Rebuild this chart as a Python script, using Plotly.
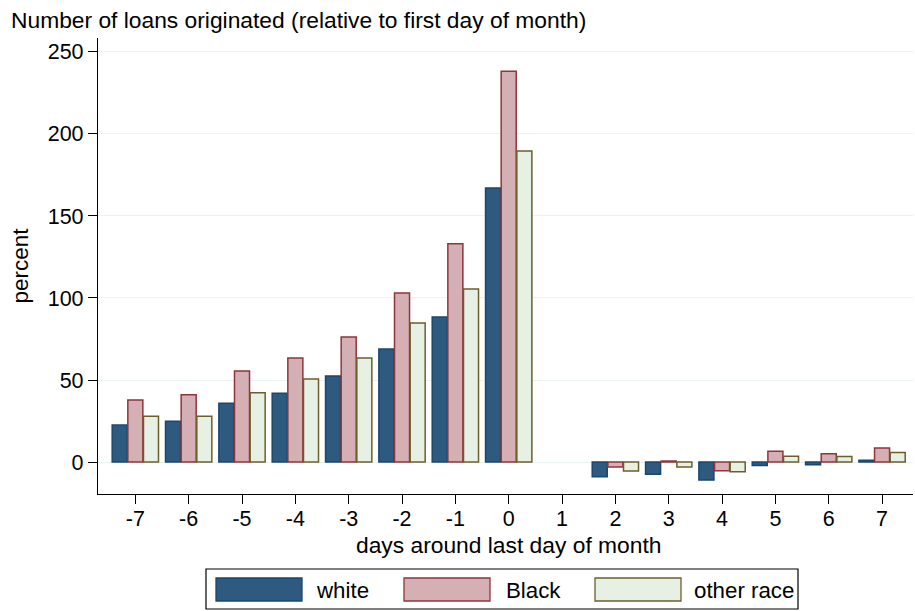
import plotly.graph_objects as go

days = [-7, -6, -5, -4, -3, -2, -1, 0, 2, 3, 4, 5, 6, 7]
white = [22.5, 24.8, 35.8, 41.9, 52.4, 68.9, 88.4, 167.0, -9.0, -7.5, -11.0, -2.2, -1.6, 1.0]
black = [37.8, 41.0, 55.5, 63.4, 76.2, 103.0, 133.0, 238.2, -3.0, 0.6, -5.3, 6.5, 5.1, 8.6]
other = [27.9, 27.9, 42.3, 50.6, 63.4, 84.8, 105.5, 189.6, -5.5, -3.0, -6.0, 3.5, 3.3, 5.8]
series_names = ["white", "Black", "other race"]
x_ticks = list(range(-7, 8))
y_ticks = [0, 50, 100, 150, 200, 250]

fills = ["#2f5a7f", "#d4afb3", "#e6f0e3"]
borders = ["#1a476f", "#90353b", "#6e5e2c"]

FONT = "Liberation Sans, Arial, Helvetica, sans-serif"

fig = go.Figure()
for name, vals, fc, bc in zip(series_names, [white, black, other], fills, borders):
    fig.add_trace(go.Bar(x=days, y=vals, name=name,
                         marker=dict(color=fc, line=dict(color=bc, width=1.5)),
                         showlegend=False))

T = 38
B = 611 - 494
H = 611 - T - B

fig.update_layout(
    width=915, height=611,
    margin=dict(l=98, r=2, t=T, b=B),
    paper_bgcolor="white", plot_bgcolor="white",
    barmode="group", bargap=0.12, bargroupgap=0.04,
    font=dict(family=FONT, size=22, color="black"),
    title=dict(text="Number of loans originated (relative to first day of month)",
               x=11 / 915, xanchor="left", y=1 - 20 / 611, yanchor="middle",
               font=dict(size=22.8, family=FONT)),
    xaxis=dict(range=[-7.70, 7.58], tickmode="array", tickvals=x_ticks,
               ticktext=[str(t) for t in x_ticks],
               showline=True, linecolor="black", linewidth=1.3,
               ticks="outside", ticklen=9, tickcolor="black",
               ticklabelstandoff=-4,
               showgrid=False, zeroline=False,
               tickfont=dict(size=21.5)),
    yaxis=dict(range=[-19.5, 258.5], tickmode="array", tickvals=y_ticks,
               showline=True, linecolor="black", linewidth=1.3,
               ticks="outside", ticklen=9, tickcolor="black",
               showgrid=True, gridcolor="#eaf2f3", gridwidth=1.2,
               zeroline=False,
               title=dict(text="percent", standoff=12, font=dict(size=22.5)),
               tickfont=dict(size=21.5)),
)

def px_x(p):
    return (p - 98) / 815.0

def px_y(p):
    return (611 - B - p) / H

# x-axis title
fig.add_annotation(xref="paper", yref="paper", x=px_x(508), y=px_y(545),
                   text="days around last day of month", showarrow=False,
                   xanchor="center", yanchor="middle",
                   font=dict(size=22.8, family=FONT, color="black"))

# custom legend (Stata-style wide keys)
shapes = [dict(type="rect", xref="paper", yref="paper",
               x0=px_x(206), x1=px_x(798), y0=px_y(609), y1=px_y(569),
               line=dict(color="black", width=1.2), fillcolor="white", layer="above")]
key_x = [216, 404, 595]
text_x = [314, 504, 692]
for kx, tx, name, fc, bc in zip(key_x, text_x, series_names, fills, borders):
    shapes.append(dict(type="rect", xref="paper", yref="paper",
                       x0=px_x(kx), x1=px_x(kx + 86), y0=px_y(601), y1=px_y(578),
                       line=dict(color=bc, width=1.3), fillcolor=fc, layer="above"))
    fig.add_annotation(xref="paper", yref="paper", x=px_x(tx), y=px_y(590),
                       text=name, showarrow=False, xanchor="left", yanchor="middle",
                       font=dict(size=22.3, family=FONT, color="black"))
fig.update_layout(shapes=shapes)

fig.write_html("out.html", config={"displayModeBar": False},
               post_script="document.body.style.margin='0';document.body.style.padding='0';")
